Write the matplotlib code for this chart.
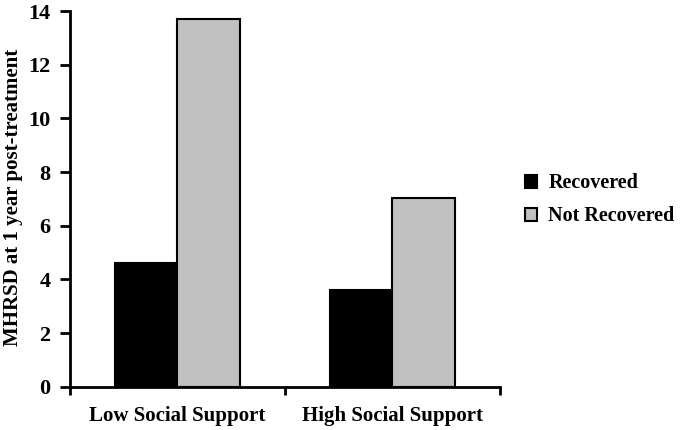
import numpy as np
import matplotlib.pyplot as plt

# data
groups = ['Low Social Support', 'High Social Support']
recovered = [4.62, 3.60]
not_recovered = [13.70, 7.04]

plt.rcParams['font.family'] = 'Liberation Serif'
plt.rcParams['font.weight'] = 'bold'

x = np.arange(len(groups))
width = 0.29

fig = plt.figure(figsize=(6.82, 4.30), dpi=100)
ax = fig.add_axes([0.1026, 0.1007, 0.6305, 0.8733])

ax.bar(x - width / 2, recovered, width, color='black', edgecolor='black',
       linewidth=1.5, label='Recovered')
ax.bar(x + width / 2, not_recovered, width, color='#c0c0c0', edgecolor='black',
       linewidth=1.5, label='Not Recovered')

ax.set_xlim(-0.5, 1.5)
ax.set_ylim(0, 14)
ax.set_yticks(np.arange(0, 15, 2))
ax.set_xticks([-0.5, 0.5, 1.5], minor=False)
ax.set_xticklabels([])
ax.set_xticks(x, minor=True)
ax.set_xticklabels(groups, minor=True, fontsize=15, fontweight='bold')
ax.tick_params(axis='x', which='minor', length=0, pad=14)
ax.tick_params(axis='x', which='major', length=6, width=2, direction='out')
ax.tick_params(axis='y', length=7, width=2, direction='out', labelsize=16, pad=7)

for s in ['top', 'right']:
    ax.spines[s].set_visible(False)
for s in ['left', 'bottom']:
    ax.spines[s].set_linewidth(2)

ax.set_ylabel('MHRSD at 1 year post-treatment', fontsize=15, fontweight='bold')
ax.yaxis.set_label_coords(-0.11, 0.505)

fig.legend(loc='center left', bbox_to_anchor=(0.77, 0.535), frameon=False,
           borderpad=0, borderaxespad=0,
           handlelength=0.6, handleheight=0.6, handletextpad=0.55,
           labelspacing=0.65, prop={'size': 14.5, 'weight': 'bold'})

fig.savefig('out.png', dpi=100)
